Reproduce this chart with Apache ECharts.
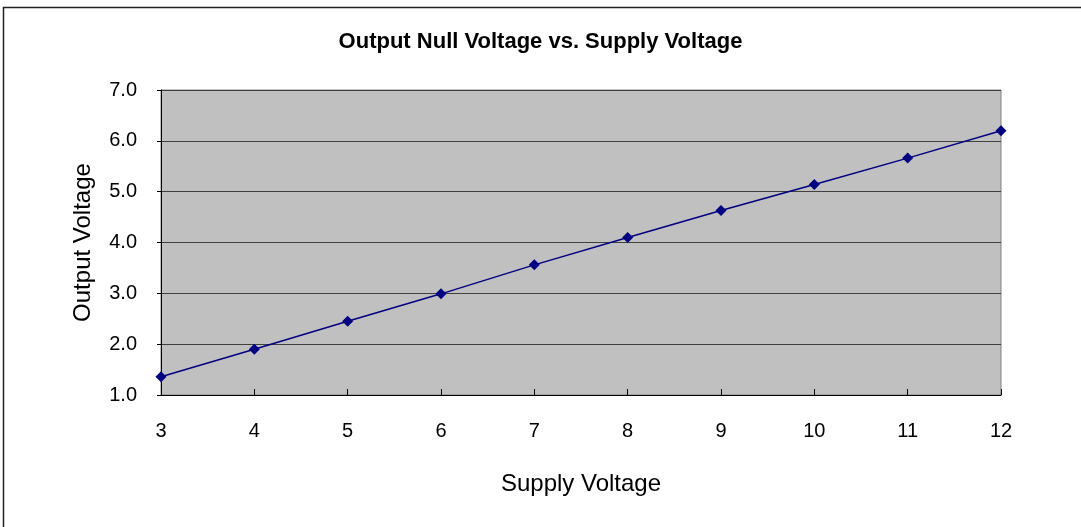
<!DOCTYPE html>
<html><head><meta charset="utf-8">
<script src="https://cdn.jsdelivr.net/npm/echarts@6/dist/echarts.min.js"></script>
<style>html,body{margin:0;padding:0;background:#fff}#c{width:1081px;height:527px}</style>
</head><body><div id="c"></div>
<script>
const supplyVoltage = [3, 4, 5, 6, 7, 8, 9, 10, 11, 12];
const outputVoltage = [1.36, 1.90, 2.45, 2.99, 3.56, 4.10, 4.63, 5.14, 5.66, 6.20];
const titleText = 'Output Null Voltage vs. Supply Voltage';
const xName = 'Supply Voltage';
const yName = 'Output Voltage';

const chart = echarts.init(document.getElementById('c'), null, {renderer: 'canvas'});
const font = '"Liberation Sans", Arial, sans-serif';
chart.setOption({
  animation: false,
  backgroundColor: '#fff',
  title: {
    text: titleText, left: 'center', top: 26,
    textStyle: {fontFamily: font, fontSize: 22, fontWeight: 'bold', color: '#000'}
  },
  graphic: [{
    type: 'rect', shape: {x: 3.5, y: 7.5, width: 1100, height: 540},
    style: {fill: 'none', stroke: '#222', lineWidth: 1.5}, z: -10
  }],
  grid: {left: 161, right: 80, top: 90, bottom: 132, show: true,
    backgroundColor: '#C0C0C0', borderColor: '#808080', borderWidth: 1},
  xAxis: {
    type: 'value', min: 3, max: 12, interval: 1,
    name: xName, nameLocation: 'middle', nameGap: 77,
    nameTextStyle: {fontFamily: font, fontSize: 24, color: '#000'},
    axisLine: {onZero: false, lineStyle: {color: '#000', width: 1}},
    axisTick: {inside: true, length: 6, lineStyle: {color: '#000'}},
    axisLabel: {fontFamily: font, fontSize: 20, color: '#000', margin: 26},
    splitLine: {show: false}
  },
  yAxis: {
    type: 'value', min: 1, max: 7, interval: 1,
    name: yName, nameLocation: 'middle', nameGap: 66,
    nameTextStyle: {fontFamily: font, fontSize: 24, color: '#000'},
    axisLine: {show: true, onZero: false, lineStyle: {color: '#000', width: 1}},
    axisTick: {show: true, length: 4, lineStyle: {color: '#000'}},
    axisLabel: {fontFamily: font, fontSize: 20, color: '#000', margin: 24,
      formatter: v => v.toFixed(1)},
    splitLine: {show: true, lineStyle: {color: '#404040', width: 1}}
  },
  series: [{
    type: 'line',
    data: supplyVoltage.map((x, i) => [x, outputVoltage[i]]),
    symbol: 'diamond', symbolSize: 11,
    lineStyle: {color: '#000080', width: 1.5},
    itemStyle: {color: '#000080'},
    clip: false
  }]
});
</script></body></html>
